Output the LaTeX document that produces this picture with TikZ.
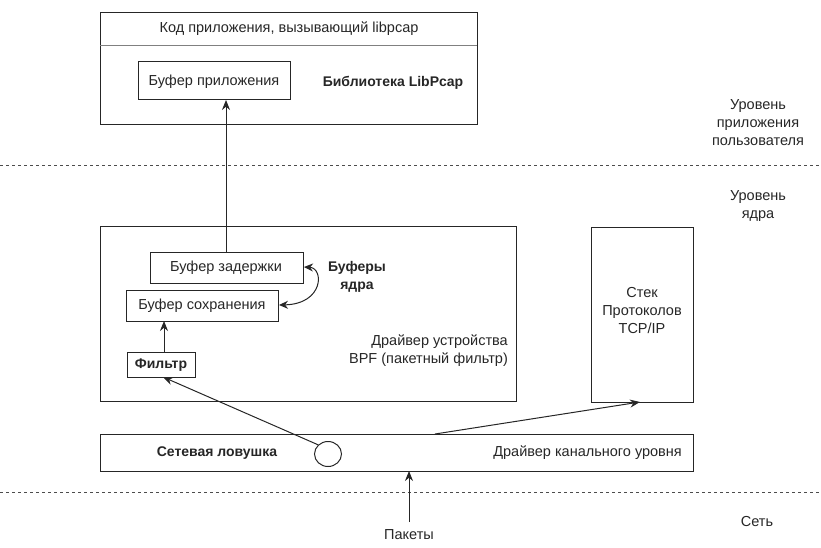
\documentclass[tikz,border=0pt]{standalone}
\usepackage{fontspec}
\setmainfont{Liberation Sans}
\usetikzlibrary{arrows.meta,shapes.geometric}
\begin{document}
\begin{tikzpicture}[x=1pt,y=-1pt,
  box/.style={draw=black!85,line width=1pt,inner sep=0pt},
  lbl/.style={font=\fontsize{14.5}{18}\selectfont,text=black!85,inner sep=0pt},
  blbl/.style={font=\fontsize{14}{18}\selectfont\bfseries,text=black!85,inner sep=0pt},
  tip/.style={Stealth[length=10pt,width=8pt]},
  arr/.style={-{Stealth[length=10pt,width=8pt]},line width=1pt,draw=black!85},
  sep/.style={draw=black!70,line width=1pt,dash pattern=on 3pt off 3pt}]
\useasboundingbox (0,0) rectangle (821,548);
% top box
\draw[box] (100,13) rectangle (477,125);
\draw[draw=black!50,line width=0.6pt] (100,45) -- (477,45);
\node[lbl] (code) at (289,29) {Код приложения, вызывающий libpcap};
\draw[box] (138,62) rectangle (290,100);
\node[lbl] (appbuf) at (214,82) {Буфер приложения};
\coordinate (appbufS) at (226,100);
\node[blbl] (lib) at (393,83) {Библиотека LibPcap};
% separators
\draw[sep] (0,166) -- (821,166);
\draw[sep] (0,492) -- (821,492);
% level labels
\node[lbl,align=center] (ulvl) at (758,123) {Уровень\\приложения\\пользователя};
\node[lbl,align=center] (klvl) at (758,206) {Уровень\\ядра};
\node[lbl] (net) at (757,522) {Сеть};
% kernel box
\draw[box] (100,226) rectangle (516,401);
\draw[box] (150,252) rectangle (303,283);
\node[lbl] (zad) at (226,268) {Буфер задержки};
\coordinate (zadN) at (226,252);
\coordinate (zadE) at (304,267);
\draw[box] (126,290) rectangle (278,321);
\node[lbl] (sohr) at (202,306) {Буфер сохранения};
\coordinate (sohrE) at (279,305);
\coordinate (sohrS) at (164,321);
\draw[box] (127,352) rectangle (195,377);
\node[blbl] (filt) at (161,365) {Фильтр};
\coordinate (filtN) at (164,352);
\coordinate (filtS) at (163,377);
\node[blbl,align=center] (kbuf) at (357,277) {Буферы\\ядра};
\node[lbl,align=right,anchor=east] (bpf) at (508,351) {Драйвер устройства\\BPF (пакетный фильтр)};
% tcp box
\draw[box] (591,227) rectangle (693,402);
\node[lbl,align=center] (tcp) at (642,311) {Стек\\Протоколов\\TCP/IP};
\coordinate (tcpS) at (640,402);
% link box
\draw[box] (100,434) rectangle (693,471);
\node[blbl] (trap) at (217,453) {Сетевая ловушка};
\node[lbl,anchor=east] (link) at (682,453) {Драйвер канального уровня};
\node[draw=black!85,line width=1pt,ellipse,minimum width=27pt,minimum height=25pt,inner sep=0pt] (ell) at (328,454) {};
\coordinate (linkN) at (435,434);
\coordinate (linkS) at (409,471);
\node[lbl] (pk) at (409,535) {Пакеты};
% arrows
\draw[arr] (zadN) -- (appbufS);
\draw[arr] (filtN) -- (sohrS);
\draw[{Stealth[length=9pt,width=8pt]}-{Stealth[length=9pt,width=8pt]},line width=1pt,draw=black!85] (zadE) .. controls (324,268) and (324,304) .. (sohrE);
\draw[arr] (ell.north west) -- (filtS);
\draw[arr] (linkN) -- (tcpS);
\draw[arr] (409,522) -- (linkS);
\end{tikzpicture}
\end{document}
